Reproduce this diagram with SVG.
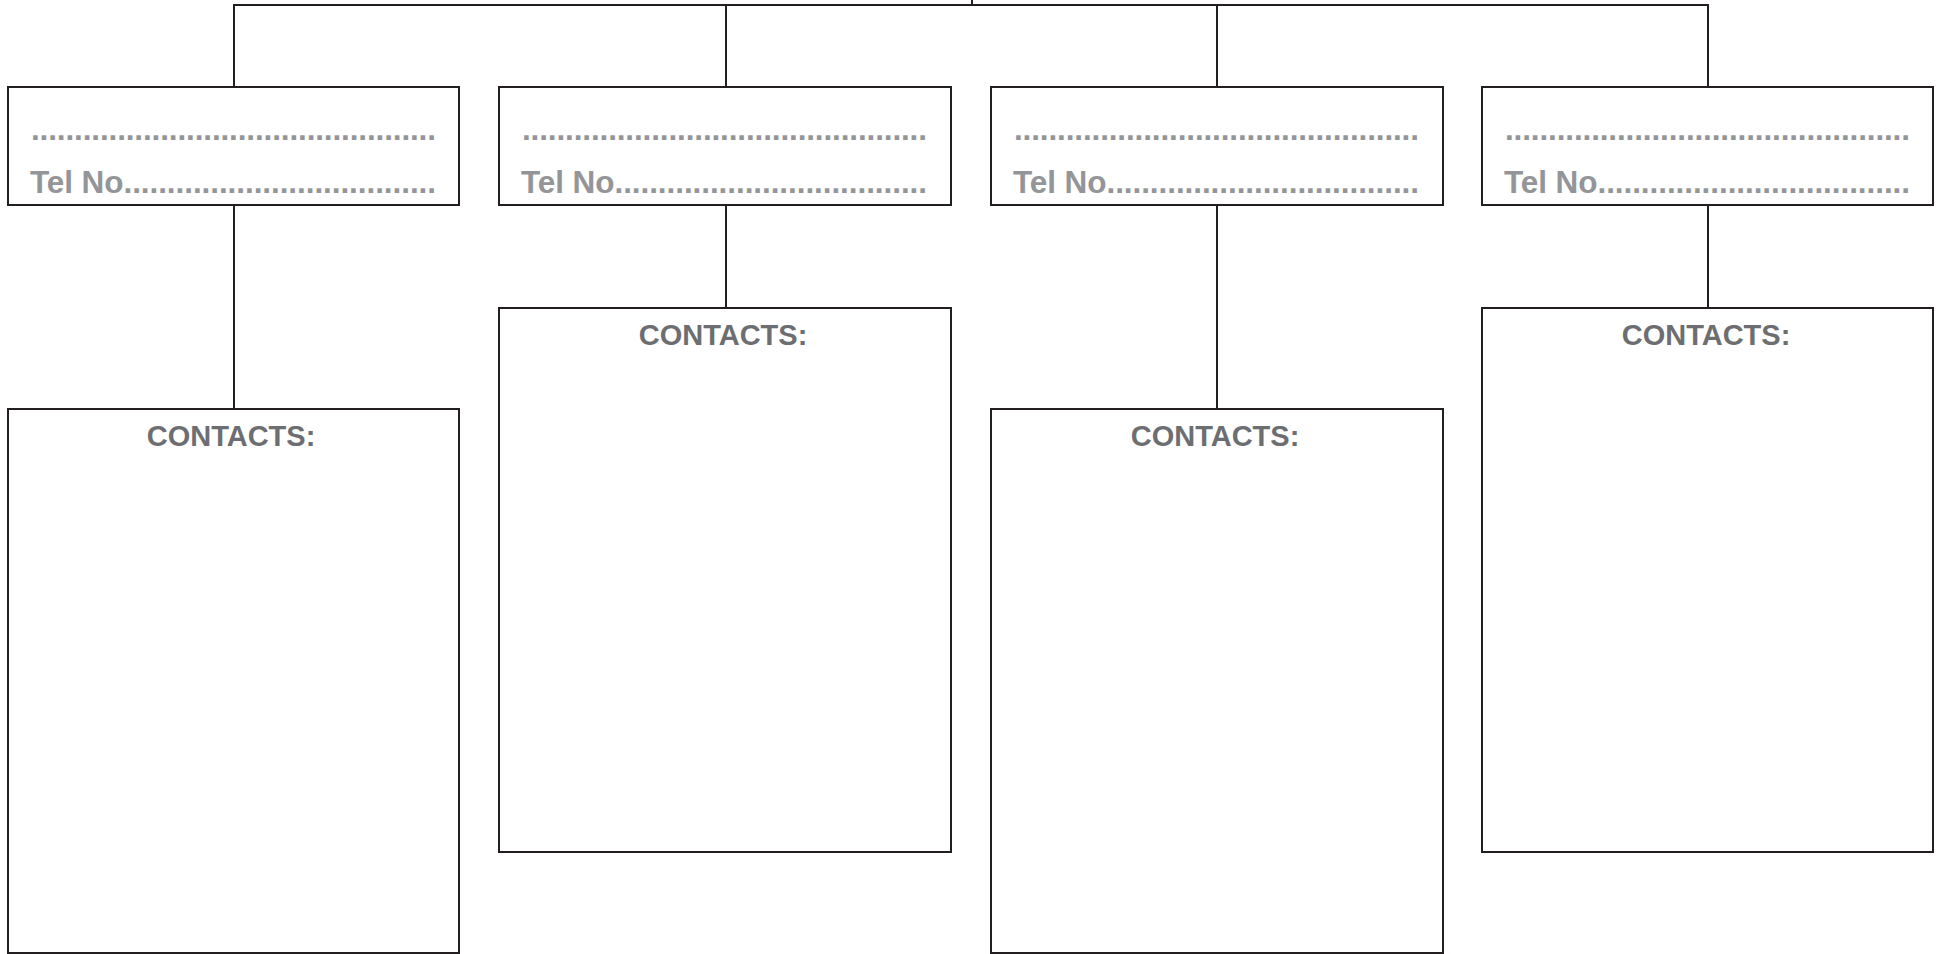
<svg xmlns="http://www.w3.org/2000/svg" width="1939" height="954" viewBox="0 0 1939 954">
<style>
.box{fill:#ffffff;stroke:#231f20;stroke-width:2}
.conn{fill:none;stroke:#231f20;stroke-width:2}
.dots{font-family:"Liberation Sans",Arial,sans-serif;font-weight:bold;font-size:31.5px;fill:#939598}
.ct{font-family:"Liberation Sans",Arial,sans-serif;font-weight:bold;font-size:29px;fill:#6d6e71;text-anchor:middle}
</style>
<rect width="1939" height="954" fill="#ffffff"/>
<g id="connectors">
<path class="conn" d="M972 0V5M233 5H1709M234 5V87M726 5V87M1217 5V87M1708 5V87"/>
<path class="conn" d="M234 205V409M726 205V308M1217 205V409M1708 205V308"/>
</g>
<g id="head1">
<rect class="box" x="8" y="87" width="451" height="118"/>
<text class="dots" x="31" y="140" textLength="405" lengthAdjust="spacing">...............................................</text>
<text class="dots" x="30" y="193" textLength="406" lengthAdjust="spacing">Tel No....................................</text>
</g>
<g id="head2">
<rect class="box" x="499" y="87" width="452" height="118"/>
<text class="dots" x="522" y="140" textLength="405" lengthAdjust="spacing">...............................................</text>
<text class="dots" x="521" y="193" textLength="406" lengthAdjust="spacing">Tel No....................................</text>
</g>
<g id="head3">
<rect class="box" x="991" y="87" width="452" height="118"/>
<text class="dots" x="1014" y="140" textLength="405" lengthAdjust="spacing">...............................................</text>
<text class="dots" x="1013" y="193" textLength="406" lengthAdjust="spacing">Tel No....................................</text>
</g>
<g id="head4">
<rect class="box" x="1482" y="87" width="451" height="118"/>
<text class="dots" x="1505" y="140" textLength="405" lengthAdjust="spacing">...............................................</text>
<text class="dots" x="1504" y="193" textLength="406" lengthAdjust="spacing">Tel No....................................</text>
</g>
<g id="contacts1">
<rect class="box" x="8" y="409" width="451" height="544"/>
<text class="ct" x="231" y="446">CONTACTS:</text>
</g>
<g id="contacts2">
<rect class="box" x="499" y="308" width="452" height="544"/>
<text class="ct" x="723" y="345">CONTACTS:</text>
</g>
<g id="contacts3">
<rect class="box" x="991" y="409" width="452" height="544"/>
<text class="ct" x="1215" y="446">CONTACTS:</text>
</g>
<g id="contacts4">
<rect class="box" x="1482" y="308" width="451" height="544"/>
<text class="ct" x="1706" y="345">CONTACTS:</text>
</g>
</svg>
